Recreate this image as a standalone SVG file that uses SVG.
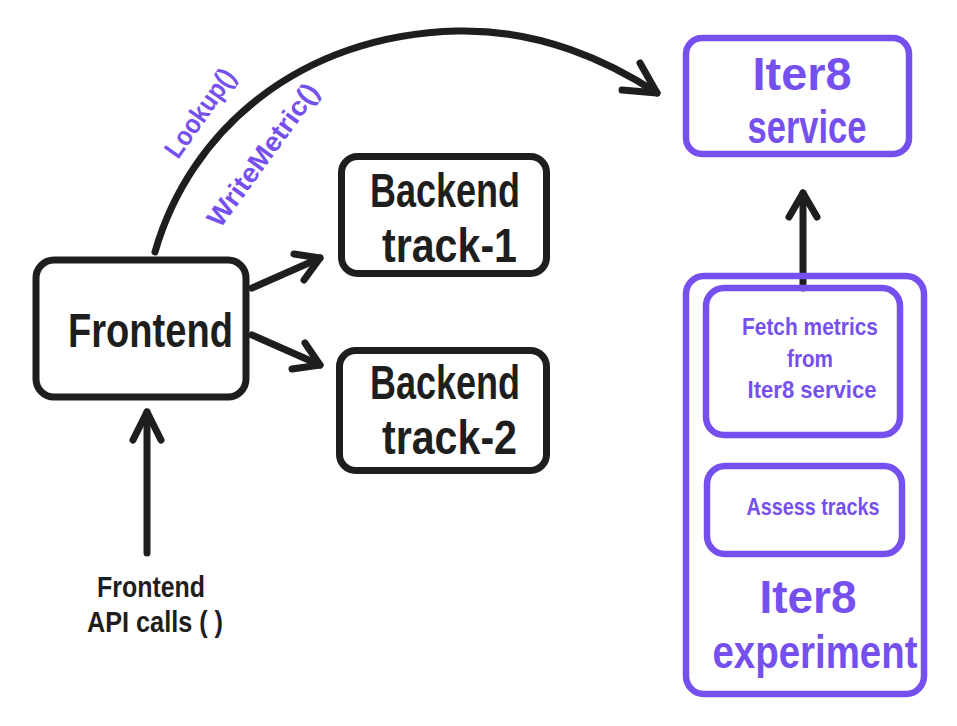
<svg xmlns="http://www.w3.org/2000/svg" width="957" height="726" viewBox="0 0 957 726">
<style>
.bk{fill:none;stroke:#1e1e1e;stroke-width:7;stroke-linecap:round;stroke-linejoin:round}
.pu{fill:none;stroke:#7650ee;stroke-width:6.5;stroke-linecap:round;stroke-linejoin:round}
text{font-family:"Liberation Sans","DejaVu Sans",sans-serif;font-weight:bold;text-anchor:middle}
.tb{fill:#1e1e1e}
.tp{fill:#7650ee}
.s48{font-size:48px}
.s46{font-size:46px}
.s29{font-size:29px}
.s27{font-size:27px}
.s24{font-size:24px}
</style>
<rect width="957" height="726" fill="#ffffff"/>
<g id="connectors">
  <path class="bk" d="M155,252 C190,130 300,35 457,31 C540,29 610,62 657,93"/>
  <path class="bk" d="M622,90 L657,93 L640,63"/>
  <path class="bk" d="M252,288 L320,258"/>
  <path class="bk" d="M294,254 L320,258 L304,280"/>
  <path class="bk" d="M252,335 L320,365"/>
  <path class="bk" d="M305,343 L320,365 L292,369"/>
  <path class="bk" d="M147,553 L147,412"/>
  <path class="bk" d="M133,440 L147,412 L161,440"/>
  <path class="bk" d="M803,288 L803,193"/>
  <path class="bk" d="M789,217 L803,193 L817,217"/>
  <g transform="translate(200,113) rotate(-55)">
    <text class="tp s27" x="0" y="9" textLength="102" lengthAdjust="spacingAndGlyphs">Lookup()</text>
  </g>
  <g transform="translate(263,155) rotate(-54)">
    <text class="tp s27" x="0" y="9" textLength="170" lengthAdjust="spacingAndGlyphs">WriteMetric()</text>
  </g>
</g>
<g id="frontend">
  <rect class="bk" x="36" y="260" width="210" height="137" rx="18"/>
  <text class="tb s48" x="150.5" y="347" textLength="165" lengthAdjust="spacingAndGlyphs">Frontend</text>
</g>
<g id="backend-track-1">
  <rect class="bk" x="341.5" y="156.5" width="205" height="117" rx="16"/>
  <text class="tb s48" x="445" y="207" textLength="150" lengthAdjust="spacingAndGlyphs">Backend</text>
  <text class="tb s48" x="449.5" y="262" textLength="135" lengthAdjust="spacingAndGlyphs">track-1</text>
</g>
<g id="backend-track-2">
  <rect class="bk" x="339.5" y="350.5" width="207" height="120" rx="16"/>
  <text class="tb s48" x="445" y="399" textLength="150" lengthAdjust="spacingAndGlyphs">Backend</text>
  <text class="tb s48" x="449.5" y="454" textLength="135" lengthAdjust="spacingAndGlyphs">track-2</text>
</g>
<g id="iter8-service">
  <rect class="pu" x="686" y="38" width="223" height="116" rx="16"/>
  <text class="tp s46" x="802" y="90" textLength="99" lengthAdjust="spacingAndGlyphs">Iter8</text>
  <text class="tp s46" x="807" y="143" textLength="119" lengthAdjust="spacingAndGlyphs">service</text>
</g>
<g id="iter8-experiment">
  <rect class="pu" x="686" y="276" width="238" height="418" rx="18"/>
  <text class="tp s46" x="808" y="613" textLength="97" lengthAdjust="spacingAndGlyphs">Iter8</text>
  <text class="tp s46" x="815" y="668" textLength="205" lengthAdjust="spacingAndGlyphs">experiment</text>
</g>
<g id="fetch-metrics">
  <rect class="pu" x="706" y="288" width="194" height="147" rx="18"/>
  <text class="tp s24" x="810" y="335" textLength="136" lengthAdjust="spacingAndGlyphs">Fetch metrics</text>
  <text class="tp s24" x="810" y="367" textLength="46" lengthAdjust="spacingAndGlyphs">from</text>
  <text class="tp s24" x="812" y="398" textLength="129" lengthAdjust="spacingAndGlyphs">Iter8 service</text>
</g>
<g id="assess-tracks">
  <rect class="pu" x="707" y="466" width="195" height="88" rx="18"/>
  <text class="tp s24" x="813" y="515" textLength="133" lengthAdjust="spacingAndGlyphs">Assess tracks</text>
</g>
<g id="frontend-api-calls">
  <text class="tb s29" x="151" y="597" textLength="108" lengthAdjust="spacingAndGlyphs">Frontend</text>
  <text class="tb s29" x="155" y="632" textLength="136" lengthAdjust="spacingAndGlyphs">API calls ( )</text>
</g>
</svg>
